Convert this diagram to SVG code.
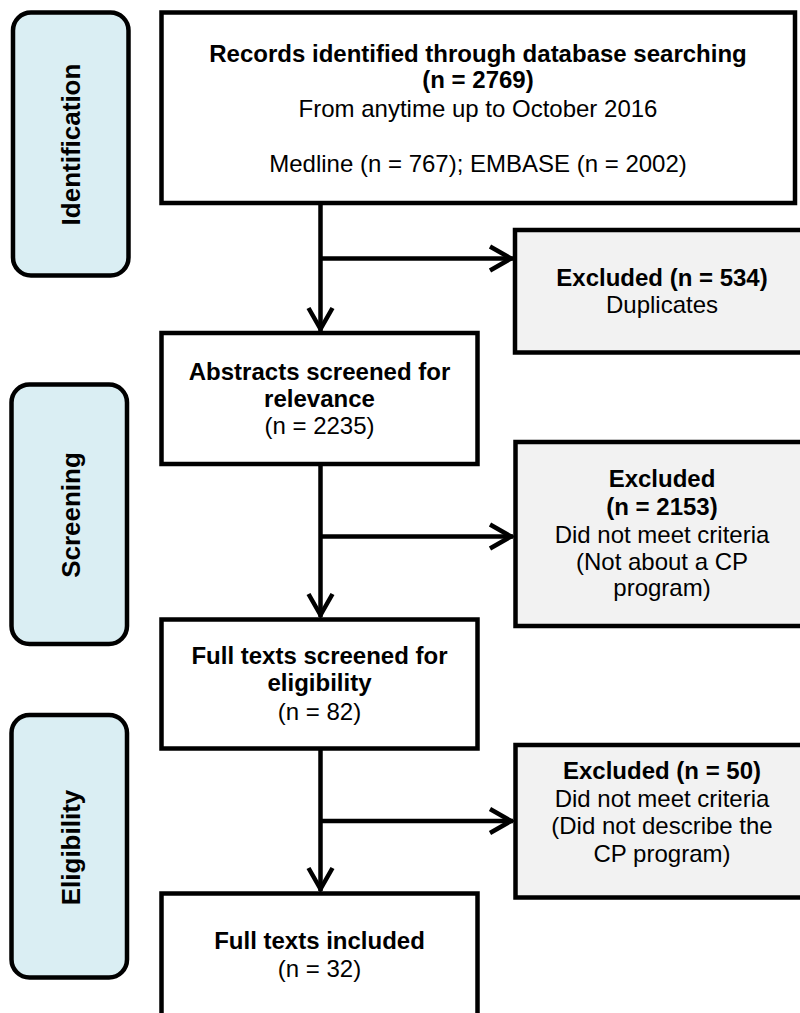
<svg xmlns="http://www.w3.org/2000/svg" width="800" height="1013" viewBox="0 0 800 1013">
<style>
  .box { fill: #ffffff; stroke: #000000; stroke-width: 4.5; }
  .excl { fill: #f2f2f2; stroke: #000000; stroke-width: 4.5; }
  .stage { fill: #daeef3; stroke: #000000; stroke-width: 4.5; }
  .conn { fill: none; stroke: #000000; stroke-width: 4.5; }
  text { font-family: "Liberation Sans", Arial, sans-serif; font-size: 24px; fill: #000000; text-anchor: middle; }
  .b { font-weight: bold; }
  .lbl { font-size: 26px; font-weight: bold; }
</style>
<defs>
  <marker id="arr" markerUnits="userSpaceOnUse" markerWidth="34" markerHeight="34" viewBox="-28 -17 34 34" refX="0" refY="0" orient="auto" overflow="visible">
    <path d="M-23,-12 L-2,0 L-23,12" fill="none" stroke="#000" stroke-width="4.5" stroke-linejoin="miter"/>
  </marker>
</defs>

<g id="stage-identification">
  <rect class="stage" x="13" y="12.5" width="115.5" height="263" rx="18" ry="18"/>
  <text class="lbl" transform="translate(80,144.5) rotate(-90)">Identification</text>
</g>
<g id="stage-screening">
  <rect class="stage" x="11.5" y="384.5" width="115.5" height="259.5" rx="18" ry="18"/>
  <text class="lbl" transform="translate(80,515) rotate(-90)">Screening</text>
</g>
<g id="stage-eligibility">
  <rect class="stage" x="11.5" y="715" width="115.5" height="262.5" rx="18" ry="18"/>
  <text class="lbl" transform="translate(80,847.5) rotate(-90)">Eligibility</text>
</g>

<g id="node-records">
  <rect class="box" x="161.5" y="12.5" width="633.5" height="190.5"/>
  <text class="b" x="478" y="62">Records identified through database searching</text>
  <text class="b" x="478" y="88">(n = 2769)</text>
  <text x="478" y="117">From anytime up to October 2016</text>
  <text x="478" y="172">Medline (n = 767); EMBASE (n = 2002)</text>
</g>

<g id="node-excluded-duplicates">
  <rect class="excl" x="515" y="230" width="300" height="122.5"/>
  <text class="b" x="662" y="285.5">Excluded (n = 534)</text>
  <text x="662" y="313">Duplicates</text>
</g>

<g id="node-abstracts">
  <rect class="box" x="161.5" y="333" width="316" height="131"/>
  <text class="b" x="319.5" y="379.5">Abstracts screened for</text>
  <text class="b" x="319.5" y="407">relevance</text>
  <text x="319.5" y="434">(n = 2235)</text>
</g>

<g id="node-excluded-criteria">
  <rect class="excl" x="515.5" y="442" width="300" height="184"/>
  <text class="b" x="662" y="487">Excluded</text>
  <text class="b" x="662" y="515">(n = 2153)</text>
  <text x="662" y="542.5">Did not meet criteria</text>
  <text x="662" y="569.5">(Not about a CP</text>
  <text x="662" y="596">program)</text>
</g>

<g id="node-fulltexts-screened">
  <rect class="box" x="161.5" y="619.5" width="316" height="129"/>
  <text class="b" x="319.5" y="664">Full texts screened for</text>
  <text class="b" x="319.5" y="691">eligibility</text>
  <text x="319.5" y="719.5">(n = 82)</text>
</g>

<g id="node-excluded-describe">
  <rect class="excl" x="515.5" y="745" width="300" height="152.5"/>
  <text class="b" x="662" y="778.5">Excluded (n = 50)</text>
  <text x="662" y="806.5">Did not meet criteria</text>
  <text x="662" y="834">(Did not describe the</text>
  <text x="662" y="861.5">CP program)</text>
</g>

<g id="node-included">
  <rect class="box" x="161.5" y="893.5" width="316" height="140"/>
  <text class="b" x="319.5" y="949">Full texts included</text>
  <text x="319.5" y="977">(n = 32)</text>
</g>

<g id="connectors">
  <path class="conn" d="M320.5,203 V331" marker-end="url(#arr)"/>
  <path class="conn" d="M320.5,258.5 H513" marker-end="url(#arr)"/>
  <path class="conn" d="M320.5,464 V617" marker-end="url(#arr)"/>
  <path class="conn" d="M320.5,536.5 H513" marker-end="url(#arr)"/>
  <path class="conn" d="M320.5,748.5 V891" marker-end="url(#arr)"/>
  <path class="conn" d="M320.5,821 H513" marker-end="url(#arr)"/>
</g>
</svg>
